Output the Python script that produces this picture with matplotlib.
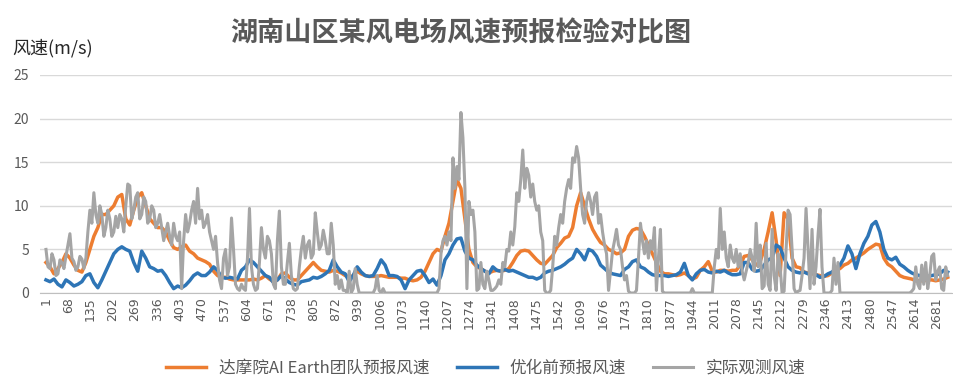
import matplotlib
matplotlib.use('Agg')
import matplotlib.pyplot as plt
import numpy as np

plt.rcParams['font.family'] = ['Noto Sans CJK SC', 'DejaVu Sans']

# 实际观测风速：每隔6个时次读一次图上的数值 (m/s)
obs = [5.0, 3.0, 2.8, 4.5, 3.8, 2.0, 2.2, 3.8, 3.5, 2.8, 4.2, 5.5, 6.8, 4.0, 3.6, 2.6, 3.0, 4.2, 3.9, 2.8,
       4.0, 7.0, 9.5, 8.0, 11.5, 9.0, 8.0, 10.0, 9.0, 6.5, 7.5, 9.5, 8.5, 6.5, 7.0, 8.8, 7.5, 9.0, 8.5, 7.0,
       10.0, 12.5, 12.3, 8.5, 9.5, 11.0, 11.5, 8.5, 9.0, 11.0, 10.5, 8.0, 8.5, 10.0, 9.5, 7.5, 8.0, 9.0, 7.5, 6.0,
       7.0, 8.0, 6.5, 5.5, 8.0, 6.5, 6.0, 7.0, 0.5, 6.0, 9.0, 7.0, 8.0, 9.5, 10.5, 8.0, 12.0, 8.5, 9.5, 7.5,
       8.0, 9.0, 7.0, 6.0, 5.0, 6.5, 3.5, 1.5, 0.5, 4.0, 5.0, 2.0, 3.0, 8.6, 5.0, 1.0, 0.5, 0.3, 1.0, 0.5,
       0.3, 4.0, 9.7, 3.0, 1.0, 0.3, 0.5, 3.5, 7.5, 5.0, 4.0, 6.5, 6.0, 4.5, 1.0, 0.5, 6.0, 9.4, 3.0, 1.0,
       1.0, 3.5, 5.7, 2.0, 0.5, 0.3, 0.5, 3.0, 5.0, 6.5, 4.0, 5.5, 6.0, 4.0, 4.5, 9.2, 7.0, 5.0, 5.5, 7.2,
       6.0, 4.5, 4.5, 8.0, 5.5, 1.0, 2.0, 0.5, 1.5, 0.3, 0.3, 0.0, 2.5, 0.0, 0.5, 2.8, 1.0, 0.0, 0.0, 0.0,
       0.0, 0.0, 0.0, 0.0, 0.0, 0.5, 2.0, 0.3, 0.0, 0.5, 0.0, 0.0, 0.0, 0.0, 0.0, 0.0, 0.0, 0.0, 0.0, 0.0,
       0.0, 0.0, 0.0, 0.0, 0.0, 0.0, 0.0, 0.0, 0.0, 0.0, 0.0, 0.0, 0.0, 0.0, 0.0, 0.0, 0.0, 0.5, 4.5, 6.0,
       6.5, 5.5, 7.0, 6.0, 15.5, 12.0, 14.5, 13.0, 20.7, 17.8, 12.0, 0.5, 10.5, 9.0, 9.5, 7.0, 0.3, 0.5, 3.5, 1.0,
       0.5, 2.5, 1.5, 0.3, 0.3, 0.5, 0.8, 1.5, 1.0, 3.5, 3.0, 5.0, 4.8, 7.0, 5.5, 7.6, 11.5, 10.5, 13.0, 16.4,
       12.0, 14.3, 13.5, 11.0, 12.5, 10.5, 9.5, 10.0, 7.0, 6.0, 0.3, 0.0, 0.0, 0.3, 3.0, 6.5, 5.5, 7.5, 9.0, 8.0,
       10.5, 12.0, 13.0, 12.0, 15.5, 15.0, 16.8, 15.5, 12.0, 9.0, 8.0, 10.5, 11.5, 10.5, 9.0, 11.0, 11.5, 8.0, 9.0, 7.0,
       5.5, 4.5, 0.3, 2.5, 4.8, 6.0, 7.3, 5.5, 5.0, 3.0, 1.5, 2.0, 0.2, 0.0, 0.0, 0.0, 0.3, 4.0, 8.0, 6.0,
       4.5, 6.0, 4.0, 6.0, 5.0, 7.5, 0.3, 4.0, 7.3, 0.2, 0.0, 0.0, 0.0, 0.0, 0.0, 0.0, 0.0, 0.0, 0.0, 0.0,
       0.0, 0.0, 0.0, 0.0, 0.5, 0.0, 0.0, 0.0, 0.0, 0.0, 0.0, 0.0, 0.0, 0.0, 0.0, 3.0, 5.0, 4.0, 9.7, 5.0,
       7.0, 4.0, 3.0, 5.5, 4.0, 3.5, 5.0, 3.0, 4.5, 2.5, 1.5, 2.5, 3.5, 5.0, 4.0, 2.5, 8.0, 3.0, 5.5, 0.5,
       0.8, 5.7, 1.0, 0.3, 7.3, 2.0, 0.3, 4.5, 3.0, 0.0, 0.2, 5.0, 9.5, 9.0, 5.0, 0.5, 0.0, 0.2, 0.3, 2.0,
       4.0, 9.7, 5.0, 0.5, 7.3, 1.0, 3.0, 6.6, 9.6, 3.0, 0.0, 0.0, 0.0, 0.0, 0.3, 4.0, 1.0, 3.5, 0.0, 0.0,
       0.0, 0.0, 0.0, 0.0, 0.0, 0.0, 0.0, 0.0, 0.0, 0.0, 0.0, 0.0, 0.0, 0.0, 0.0, 0.0, 0.0, 0.0, 0.0, 0.0,
       0.0, 0.0, 0.0, 0.0, 0.0, 0.0, 0.0, 0.0, 0.0, 0.0, 0.0, 0.0, 0.0, 0.0, 0.2, 0.5, 3.0, 1.0, 0.5, 3.2,
       1.0, 3.5, 0.5, 2.0, 4.2, 4.5, 1.5, 2.5, 3.0, 0.5, 0.3, 3.0, 2.0]

# 两种预报：每隔12个时次读一次 (m/s)
ai_earth = [3.5, 3.0, 2.2, 2.8, 3.5, 4.5, 4.0, 3.2, 2.6, 2.4,
            3.5, 5.0, 6.5, 7.5, 9.0, 9.0, 9.5, 10.0, 11.0, 11.3,
            8.5, 7.8, 9.5, 11.0, 11.5, 10.0, 8.5, 8.0, 7.5, 7.5,
            7.0, 6.0, 5.2, 5.0, 5.3, 5.5, 4.8, 4.5, 4.0, 3.8,
            3.6, 3.3, 2.5, 2.0, 1.8, 1.8, 1.6, 1.5, 1.5, 1.5,
            1.5, 1.5, 1.6, 1.5, 1.7, 2.0, 1.6, 1.3, 1.5, 2.2,
            2.3, 1.8, 1.5, 1.5, 2.0, 2.5, 3.0, 3.5, 3.0, 2.6,
            2.5, 2.4, 2.6, 2.5, 2.3, 2.0, 1.8, 2.0, 2.5, 2.2,
            2.0, 1.9, 1.9, 1.9, 2.0, 1.9, 1.8, 1.8, 1.8, 1.7,
            1.7, 1.5, 1.4, 1.5, 1.8, 2.5, 3.5, 4.5, 5.0, 4.8,
            6.5, 8.0, 10.5, 13.0, 12.0, 8.5, 5.0, 3.5, 3.0, 2.8,
            2.5, 2.3, 2.5, 2.6, 2.5, 2.6, 2.8, 3.5, 4.3, 4.8,
            4.9, 4.8, 4.3, 3.8, 3.4, 3.3, 3.8, 4.3, 5.2, 5.7,
            6.3, 6.5, 7.5, 10.0, 11.5, 10.0, 8.5, 7.3, 6.5, 5.8,
            5.5, 5.0, 4.8, 4.5, 4.6, 5.0, 6.5, 7.2, 7.4, 7.3,
            6.5, 5.5, 4.5, 3.5, 2.5, 2.2, 2.2, 2.1, 2.0, 2.1,
            2.3, 2.0, 1.6, 1.8, 2.6, 3.0, 3.6, 2.5, 2.4, 2.6,
            2.6, 2.5, 2.6, 2.6, 3.2, 4.2, 4.3, 3.8, 3.2, 3.6,
            5.0, 7.0, 9.2, 6.0, 2.0, 9.2, 8.5, 4.0, 3.0, 2.9,
            2.4, 2.3, 2.2, 2.1, 2.0, 1.9, 2.0, 2.3, 2.6, 2.8,
            3.2, 3.4, 3.8, 4.0, 4.3, 4.6, 5.0, 5.3, 5.6, 5.5,
            4.0, 3.3, 3.0, 2.5, 2.0, 1.8, 1.7, 1.6, 1.4, 1.4,
            1.4, 1.5, 1.5, 1.4, 1.5, 1.6, 1.8]

before_opt = [1.5, 1.3, 1.6, 1.0, 0.7, 1.5, 1.2, 0.8, 1.0, 1.3,
              2.0, 2.2, 1.2, 0.6, 1.5, 2.5, 3.5, 4.5, 5.0, 5.3,
              5.0, 4.8, 3.5, 2.5, 4.8, 4.0, 3.0, 2.8, 2.5, 2.6,
              2.0, 1.2, 0.5, 0.8, 0.6, 0.9, 1.4, 2.0, 2.3, 2.0,
              2.0, 2.4, 3.0, 2.6, 1.8, 1.7, 1.8, 1.7, 1.6, 2.6,
              3.0, 3.8, 3.5, 3.0, 2.5, 2.0, 1.8, 1.2, 1.5, 2.0,
              1.6, 1.2, 1.0, 0.9, 1.3, 1.4, 1.5, 1.8, 1.7, 1.9,
              2.2, 2.6, 3.8, 3.0, 2.4, 2.2, 1.3, 2.0, 3.0, 2.4,
              2.0, 1.9, 2.0, 2.8, 3.8, 3.2, 2.0, 2.0, 1.9, 1.5,
              0.5, 1.5, 2.0, 2.5, 2.6, 2.0, 1.2, 1.6, 0.9, 2.0,
              3.8, 4.5, 5.5, 6.2, 6.3, 4.8, 4.0, 3.8, 3.2, 2.8,
              2.5, 2.2, 3.0, 2.6, 2.5, 2.7, 2.5, 2.6, 2.4, 2.2,
              2.0, 1.8, 1.8, 1.6, 1.8, 2.3, 2.5, 2.6, 2.8, 3.0,
              3.3, 3.7, 4.0, 5.0, 4.5, 3.8, 5.0, 4.8, 4.2, 3.2,
              2.8, 2.4, 2.2, 2.1, 2.0, 2.7, 3.0, 3.6, 3.8, 3.0,
              2.8, 2.4, 2.1, 2.0, 2.0, 2.0, 1.9, 2.0, 2.1, 2.4,
              3.4, 2.0, 1.5, 2.2, 2.6, 2.7, 2.4, 2.3, 2.5, 2.4,
              2.6, 2.3, 2.1, 2.1, 2.2, 3.5, 3.5, 2.7, 2.5, 2.6,
              3.2, 3.8, 4.0, 5.5, 5.2, 4.0, 3.0, 2.6, 2.4, 2.3,
              2.4, 2.2, 2.4, 2.1, 1.8, 1.9, 2.2, 2.4, 2.8, 3.2,
              4.0, 5.4, 4.5, 2.8, 4.5, 5.7, 6.5, 7.8, 8.2, 7.0,
              5.0, 4.0, 3.8, 4.1, 3.3, 3.0, 2.6, 2.3, 2.1, 2.0,
              2.0, 1.9, 2.0, 2.1, 2.2, 2.6, 2.4]

# 时次编号
t_obs = np.arange(1, 6 * len(obs), 6)
t_fc = np.arange(1, 12 * len(ai_earth), 12)
tick_vals = list(range(1, 2700, 67))

fig = plt.figure(figsize=(9.54, 3.87), dpi=100)
ax = fig.add_axes([40 / 954, 94 / 387, 912 / 954, 218 / 387])

ax.plot(t_fc, ai_earth, color='#ED7D31', lw=2.5, label='达摩院AI Earth团队预报风速', zorder=3)
ax.plot(t_fc, before_opt, color='#2E75B6', lw=2.5, label='优化前预报风速', zorder=4)
ax.plot(t_obs, obs, color='#A5A5A5', lw=2.2, label='实际观测风速', zorder=5)

ax.set_xlim(-17, 2726)
ax.set_ylim(0, 25)
ax.set_yticks(range(0, 26, 5))
ax.set_xticks(tick_vals)
ax.set_xticklabels([str(v) for v in tick_vals], rotation=90, fontsize=9, color='#595959',
                   family=['DejaVu Sans'])
ax.tick_params(axis='y', labelsize=10, labelcolor='#595959', length=0, pad=8)
ax.tick_params(axis='x', length=0, pad=3)
ax.grid(axis='y', color='#D9D9D9', lw=1)
ax.set_axisbelow(True)
for s in ['top', 'right', 'left']:
    ax.spines[s].set_visible(False)
ax.spines['bottom'].set_color('#BFBFBF')

fig.text(461 / 954, 1 - 33 / 387, '湖南山区某风电场风速预报检验对比图', ha='center', va='center',
         fontsize=19.5, fontweight='bold', color='#595959')
fig.text(12 / 954, 1 - 48 / 387, '风速(m/s)', ha='left', va='center', fontsize=13, color='#262626')

fig.legend(loc='center', bbox_to_anchor=(486 / 954, 19 / 387), ncol=3, frameon=False,
           fontsize=12, handlelength=2.4, columnspacing=1.6, labelcolor='#595959')

fig.savefig('out.png', dpi=100)
